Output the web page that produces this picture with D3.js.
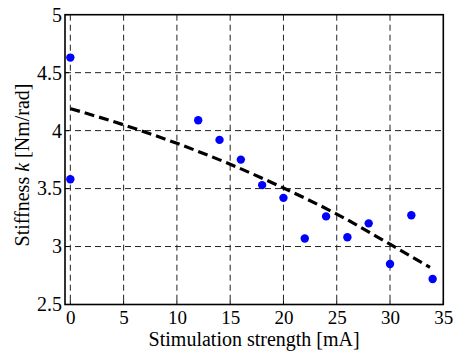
<!DOCTYPE html>
<html><head><meta charset="utf-8">
<script src="https://cdn.jsdelivr.net/npm/d3@7"></script>
<style>body{margin:0;background:#fff}</style>
</head><body>
<svg id="c" width="455" height="354"></svg>
<script>
const xTicks = [0,5,10,15,20,25,30,35];
const yTicks = [2.5,3,3.5,4,4.5,5];
const stimX = [0,0,12,14,16,18,20,22,24,26,28,30,32,34];
const stiffY = [4.63,3.58,4.09,3.92,3.75,3.53,3.42,3.07,3.26,3.08,3.20,2.85,3.27,2.72];
const fitX = [0,5,10,15,20,25,30,33.75];
const fitY = [4.19,4.05,3.89,3.71,3.505,3.28,3.02,2.82];

const svg = d3.select('#c');
const L=65, R=443.3, T=14.7, B=304.5;
const x = d3.scaleLinear().domain([-0.5,35]).range([L,R]);
const y = d3.scaleLinear().domain([2.5,5]).range([B,T]);
const font = '"Liberation Serif", "Times New Roman", serif';
const fs = 20, tfs = 19;

const g = svg.append('g');
// grid
g.selectAll('.vg').data(xTicks.filter(d=>d<35)).join('line')
  .attr('x1',d=>x(d)).attr('x2',d=>x(d)).attr('y1',T).attr('y2',B)
  .attr('stroke','#222').attr('stroke-width',1).attr('stroke-dasharray','6,4');
g.selectAll('.hg').data(yTicks.filter(d=>d>2.5&&d<5)).join('line')
  .attr('y1',d=>y(d)).attr('y2',d=>y(d)).attr('x1',L).attr('x2',R)
  .attr('stroke','#222').attr('stroke-width',1).attr('stroke-dasharray','6,4');

// fit line
const line = d3.line().x((d,i)=>x(fitX[i])).y(d=>y(d)).curve(d3.curveMonotoneX);
g.append('path').attr('d',line(fitY)).attr('fill','none').attr('stroke','#000')
  .attr('stroke-width',3.2).attr('stroke-dasharray','10,5');

// points
g.selectAll('circle').data(stiffY).join('circle')
  .attr('cx',(d,i)=>x(stimX[i])).attr('cy',d=>y(d)).attr('r',4.2).attr('fill','#0000ff');

// axes box
g.append('rect').attr('x',L).attr('y',T).attr('width',R-L).attr('height',B-T)
  .attr('fill','none').attr('stroke','#000').attr('stroke-width',1.6);

// ticks
const xa = d3.axisBottom(x).tickValues(xTicks).tickSize(0).tickFormat(d3.format('d'));
const xg = svg.append('g').attr('transform',`translate(0,${B})`).call(xa)
  .attr('font-family',font).attr('font-size',tfs);
xg.select('.domain').remove();
xg.selectAll('text').attr('y',19.5).attr('dy',0).attr('fill','#000');
const ya = d3.axisLeft(y).tickValues(yTicks).tickSize(0).tickPadding(3).tickFormat(d=>String(d));
const yg = svg.append('g').attr('transform',`translate(${L},0)`).call(ya)
  .attr('font-family',font).attr('font-size',fs);
yg.select('.domain').remove();
yg.selectAll('text').attr('fill','#000');
// small inner ticks
g.selectAll('.xt').data(xTicks).join('line').attr('x1',d=>x(d)).attr('x2',d=>x(d))
  .attr('y1',B).attr('y2',B-4).attr('stroke','#000');
g.selectAll('.yt').data(yTicks).join('line').attr('y1',d=>y(d)).attr('y2',d=>y(d))
  .attr('x1',L).attr('x2',L+4).attr('stroke','#000');

// titles
svg.append('text').attr('x',(L+R)/2).attr('y',345.5).attr('text-anchor','middle')
  .attr('font-family',font).attr('font-size',fs).attr('fill','#000')
  .text('Stimulation strength [mA]');
const yt = svg.append('text').attr('transform',`translate(29,165) rotate(-90)`)
  .attr('text-anchor','middle').attr('font-family',font).attr('font-size',fs).attr('fill','#000');
yt.append('tspan').text('Stiffness ');
yt.append('tspan').attr('font-style','italic').text('k');
yt.append('tspan').text(' [Nm/rad]');
</script>
</body></html>
